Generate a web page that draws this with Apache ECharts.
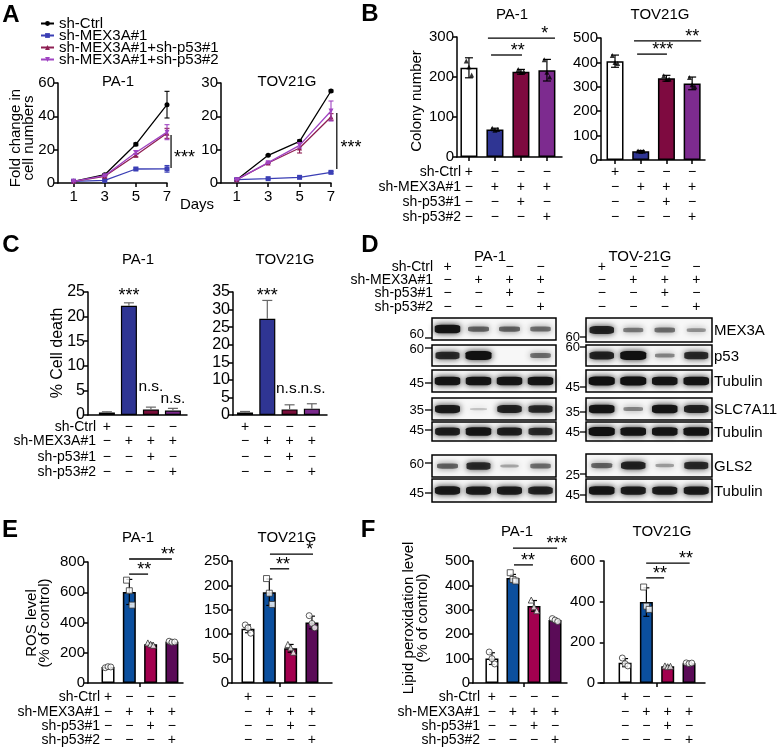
<!DOCTYPE html>
<html><head><meta charset="utf-8">
<script src="https://cdn.jsdelivr.net/npm/echarts@6/dist/echarts.min.js"></script>
<style>html,body{margin:0;padding:0;background:#fff}#c{width:777px;height:749px}</style>
</head><body><div id="c"></div>
<script>
const FONT = "'Liberation Sans', Arial, Helvetica, sans-serif";

// ---------- DATA ----------
// Panel A: growth curves
const days = [1, 3, 5, 7];
const groupsA = ['sh-Ctrl', 'sh-MEX3A#1', 'sh-MEX3A#1+sh-p53#1', 'sh-MEX3A#1+sh-p53#2'];
const growthPA = [[1, 5, 23.2, 47], [1, 1.6, 8.4, 8.5], [1, 4, 16.6, 29.8], [1, 4.4, 18.3, 30.5]];
const growthPAErr = [[0.2, 0.5, 0.8, 8], [0.1, 0.3, 0.6, 2], [0.1, 0.4, 0.9, 3], [0.1, 0.4, 1.1, 4.5]];
const growthTOV = [[1, 8.3, 12.5, 27.6], [1, 1.3, 1.7, 3.2], [1, 6, 10.5, 19.8], [1, 6.1, 11.3, 21.6]];
const growthTOVErr = [[0.05, 0.2, 0.4, 0.3], [0.05, 0.1, 0.1, 0.3], [0.05, 0.2, 1.5, 1], [0.05, 0.2, 0.8, 3]];

// Condition table
const lanes = [1, 2, 3, 4];
const rowNames = ['sh-Ctrl', 'sh-MEX3A#1', 'sh-p53#1', 'sh-p53#2'];
const condTable = [['+', '−', '−', '−'], ['−', '+', '+', '+'], ['−', '−', '+', '−'], ['−', '−', '−', '+']];

// Panel B: colony number
const colonyPA = [223, 69, 213, 217];
const colonyPAErr = [25, 3, 6, 27];
const colonyPAPts = [[240, 225, 205], [72, 67, 69], [219, 211, 214], [243, 212, 200]];
const colonyTOV = [405, 36, 335, 314];
const colonyTOVErr = [25, 3, 12, 26];
const colonyTOVPts = [[428, 400, 395], [37, 35, 36], [345, 330, 332], [338, 308, 300]];

// Panel C: % cell death
const deathPA = [0.5, 22.2, 1.1, 0.9];
const deathPAErr = [0.15, 0.6, 0.5, 0.45];
const deathTOV = [0.7, 27.4, 1.6, 1.8];
const deathTOVErr = [0.3, 5.2, 1.3, 1.4];

// Panel E: ROS level
const rosPA = [105, 602, 256, 272];
const rosPAErr = [6, 83, 8, 4];
const rosPAPts = [[101, 108, 106], [680, 610, 515], [265, 256, 249], [276, 270, 271]];
const rosTOV = [111, 186, 71, 124];
const rosTOVErr = [8, 27, 8, 13];
const rosTOVPts = [[119, 113, 102], [214, 184, 161], [79, 72, 63], [138, 122, 113]];

// Panel F: lipid peroxidation
const lipPA = [100, 430, 316, 258];
const lipPAErr = [24, 15, 22, 6];
const lipPAPts = [[127, 100, 78], [452, 424, 418], [340, 312, 296], [264, 258, 252]];
const lipTOV = [100, 398, 82, 97];
const lipTOVErr = [20, 70, 4, 4];
const lipTOVPts = [[123, 95, 84], [472, 378, 362], [84, 80, 82], [99, 95, 98]];

// Panel D: western blot band intensities (0..1), lanes 1..4
const blotProteins = ['MEX3A', 'p53', 'Tubulin', 'SLC7A11', 'Tubulin', 'GLS2', 'Tubulin'];
const bandsPA = [[0.95, 0.5, 0.5, 0.45], [0.8, 1.0, 0, 0.45], [0.95, 0.95, 0.95, 0.95], [0.9, 0.1, 0.85, 0.8], [0.88, 0.95, 0.88, 0.8], [0.5, 0.8, 0.22, 0.45], [0.92, 0.9, 0.9, 0.85]];
const bandsTOV = [[0.85, 0.4, 0.45, 0.3], [0.85, 1.0, 0.35, 0.8], [1, 1, 0.95, 0.95], [0.95, 0.35, 0.95, 0.85], [1, 0.95, 0.95, 0.95], [0.5, 0.85, 0.25, 0.8], [0.95, 0.9, 0.9, 0.9]];
const markersPA = ['60', '60', '45', '35', '45', '60', '45'];
const markersTOV = ['60', '60', '45', '35', '45', '25', '45'];

// Significance annotations: [x1, x2, yLine, label, xText]
const sigB_PA = [[1.85, 3.04, 255, '**', 2.88], [1.73, 4.31, 297, '*', 3.92]];
const sigB_TOV = [[1.86, 3.02, 434, '***', 2.86], [1.74, 4.35, 488, '**', 4.0]];
const sigE_PA = [[1.99, 2.88, 720, '**', 2.7], [1.99, 4.0, 820, '**', 3.82]];
const sigE_TOV = [[2.03, 2.93, 234, '**', 2.64], [2.03, 4.05, 264, '*', 3.9]];
const sigF_PA = [[2.05, 2.95, 484, '**', 2.71], [2.0, 4.1, 553, '***', 4.1]];
const sigF_TOV = [[1.99, 2.83, 517, '**', 2.64], [1.99, 4.03, 590, '**', 3.86]];
// A: [x, y1, y2, label, xText, yText]
const sigA_PA = [7.26, 28.8, 9, '***', 7.45, 17.4];
const sigA_TOV = [7.37, 21, 4.2, '***', 7.6, 11.7];
// C: [lane, y, label]
const sigC_PA = [[2, 24.2, '***'], [3, 5.8, 'n.s.'], [4, 3.35, 'n.s.']];
const sigC_TOV = [[2, 33.9, '***'], [2.95, 7.5, 'n.s.'], [4.05, 7.6, 'n.s.']];

// ---------- STYLE ----------
const colA = ['#000000', '#3b3fb5', '#8e1f53', '#a044c2'];
const symA = ['circle', 'rect', 'triangle', 'path://M0,0L10,0L5,9Z'];
const colB = ['#ffffff', '#2f3593', '#7e0a40', '#7d2b8f'];
const colC = ['#eeeeee', '#2f3593', '#7a0e3a', '#7b2a8c'];
const colEF = ['#ffffff', '#0b4f9e', '#a3004f', '#5a0b57'];
const symEF = ['circle', 'rect', 'triangle', 'circle'];
const jit = [-0.13, 0, 0.13];

const grid = [], xAxis = [], yAxis = [], series = [], graphic = [];
const axLS = { color: '#000', width: 1.5 };

function addGrid(g, xa, ya) {
  grid.push(Object.assign({ containLabel: false }, g));
  const i = grid.length - 1;
  xAxis.push(Object.assign({ gridIndex: i }, xa));
  yAxis.push(Object.assign({ gridIndex: i }, ya));
  return i;
}
function yAx(max, interval, fs) {
  return { type: 'value', min: 0, max, interval,
    axisLine: { show: true, lineStyle: axLS },
    axisTick: { show: true, length: 4, lineStyle: axLS },
    axisLabel: { color: '#000', fontSize: fs || 15, fontFamily: FONT, margin: 3 },
    splitLine: { show: false } };
}
function xAxLanes(min, max, ticks) {
  return { type: 'value', min, max,
    axisLine: { show: true, onZero: false, lineStyle: axLS },
    axisTick: ticks ? { show: true, length: 4, customValues: ticks, lineStyle: axLS } : { show: false },
    axisLabel: { show: false }, splitLine: { show: false } };
}
function errRender(color, oneSided, capW, lw) {
  return function (params, api) {
    const x = api.value(0), y = api.value(1), e = api.value(2);
    const p1 = api.coord([x, y + e]);
    const p0 = api.coord([x, oneSided ? y : y - e]);
    const ch = [
      { type: 'line', shape: { x1: p1[0], y1: p1[1], x2: p0[0], y2: p0[1] }, style: { stroke: color, lineWidth: lw } },
      { type: 'line', shape: { x1: p1[0] - capW, y1: p1[1], x2: p1[0] + capW, y2: p1[1] }, style: { stroke: color, lineWidth: lw } }];
    if (!oneSided) ch.push({ type: 'line', shape: { x1: p0[0] - capW, y1: p0[1], x2: p0[0] + capW, y2: p0[1] }, style: { stroke: color, lineWidth: lw } });
    return { type: 'group', children: ch };
  };
}
function barPanel(p) {
  const gi = addGrid({ left: p.left, top: p.top, width: p.width, height: p.height },
    xAxLanes(p.xmin, p.xmax, p.ticks), yAx(p.ymax, p.yint, p.fs));
  series.push({ type: 'bar', xAxisIndex: gi, yAxisIndex: gi, barWidth: p.barWidth, silent: true, z: 2,
    data: p.values.map((v, i) => ({ value: [lanes[i], v], itemStyle: { color: p.colors[i] } })),
    itemStyle: { borderColor: '#000', borderWidth: p.bw || 1.5 } });
  series.push({ type: 'custom', xAxisIndex: gi, yAxisIndex: gi, silent: true, z: 3,
    dimensions: ['x', 'y', 'e'], encode: { x: 0, y: 1 },
    renderItem: errRender(p.errColor || '#000', p.oneSided, p.capW || 4, 1.2),
    data: p.values.map((v, i) => [lanes[i], v, p.errors[i]]) });
  if (p.points) p.points.forEach((arr, i) => {
    series.push({ type: 'scatter', xAxisIndex: gi, yAxisIndex: gi, silent: true, z: 4,
      symbol: p.symbols[i], symbolSize: p.symSize,
      data: arr.map((v, k) => [lanes[i] + jit[k] * p.jitScale, v]),
      itemStyle: p.ptStyle });
  });
  return gi;
}

// ---------- PANEL A ----------
function growthPanel(left, width, ymax, yint, vals, errs) {
  const gi = addGrid({ left, top: 83, width, height: 100 },
    { type: 'value', min: 0, max: 7,
      axisLine: { show: true, onZero: false, lineStyle: axLS },
      axisTick: { show: true, length: 4, customValues: days, lineStyle: axLS },
      axisLabel: { show: true, customValues: days, color: '#000', fontSize: 15, fontFamily: FONT, margin: 6 },
      splitLine: { show: false } },
    yAx(ymax, yint, 15));
  groupsA.forEach((name, g) => {
    series.push({ type: 'line', name, xAxisIndex: gi, yAxisIndex: gi, silent: true,
      data: days.map((d, j) => [d, vals[g][j]]),
      symbol: symA[g], symbolSize: 5, showSymbol: true,
      itemStyle: { color: colA[g] }, lineStyle: { color: colA[g], width: 1.3 }, z: 3 + g });
    series.push({ type: 'custom', name, xAxisIndex: gi, yAxisIndex: gi, silent: true, z: 3 + g,
      dimensions: ['x', 'y', 'e'], encode: { x: 0, y: 1 },
      renderItem: errRender(colA[g], false, 2.5, 1.1),
      data: days.map((d, j) => [d, vals[g][j], errs[g][j]]) });
  });
  return gi;
}
const gA1 = growthPanel(58, 109, 60, 20, growthPA, growthPAErr);
const gA2 = growthPanel(221, 110, 30, 10, growthTOV, growthTOVErr);

// ---------- PANEL B ----------
const ptB = { color: '#000' };
const gB1 = barPanel({ left: 457, top: 37, width: 105, height: 120, xmin: 0.54, xmax: 4.58, ymax: 300, yint: 100,
  ticks: lanes, barWidth: 17, values: colonyPA, errors: colonyPAErr, colors: colB, points: colonyPAPts,
  symbols: ['triangle', 'triangle', 'triangle', 'triangle'], symSize: 5, ptStyle: ptB, jitScale: 0.8 });
const gB2 = barPanel({ left: 601, top: 38, width: 104, height: 122, xmin: 0.455, xmax: 4.5, ymax: 500, yint: 100,
  ticks: lanes, barWidth: 17, values: colonyTOV, errors: colonyTOVErr, colors: colB, points: colonyTOVPts,
  symbols: ['triangle', 'triangle', 'triangle', 'triangle'], symSize: 5, ptStyle: ptB, jitScale: 0.8 });

// ---------- PANEL C ----------
const gC1 = barPanel({ left: 88, top: 292, width: 99, height: 123, xmin: 0.14, xmax: 4.64, ymax: 25, yint: 5, fs: 16,
  barWidth: 16, bw: 1.2, values: deathPA, errors: deathPAErr, colors: colC, oneSided: true, errColor: '#666', capW: 5 });
const gC2 = barPanel({ left: 233, top: 292, width: 94, height: 123, xmin: 0.46, xmax: 4.68, ymax: 35, yint: 5, fs: 16,
  barWidth: 16, bw: 1.2, values: deathTOV, errors: deathTOVErr, colors: colC, oneSided: true, errColor: '#666', capW: 5 });

// ---------- PANEL E ----------
const ptEF = { color: '#fff', borderColor: '#333', borderWidth: 1 };
const gE1 = barPanel({ left: 88, top: 562, width: 95, height: 121, xmin: 0.06, xmax: 4.52, ymax: 800, yint: 200,
  ticks: [2.5], barWidth: 13, values: rosPA, errors: rosPAErr, colors: colEF, points: rosPAPts,
  symbols: symEF, symSize: 6, ptStyle: ptEF, jitScale: 1, capW: 3 });
const gE2 = barPanel({ left: 232, top: 561, width: 100, height: 122, xmin: 0.25, xmax: 4.94, ymax: 250, yint: 50,
  ticks: [2.5], barWidth: 13, values: rosTOV, errors: rosTOVErr, colors: colEF, points: rosTOVPts,
  symbols: symEF, symSize: 6, ptStyle: ptEF, jitScale: 1, capW: 3 });

// ---------- PANEL F ----------
const gF1 = barPanel({ left: 473, top: 561, width: 94, height: 122, xmin: 0.1, xmax: 4.57, ymax: 500, yint: 100,
  ticks: [2.5], barWidth: 13, values: lipPA, errors: lipPAErr, colors: colEF, points: lipPAPts,
  symbols: symEF, symSize: 6, ptStyle: ptEF, jitScale: 1, capW: 3 });
const gF2 = barPanel({ left: 598, top: 561, width: 107, height: 122, xmin: -0.27, xmax: 4.75, ymax: 600, yint: 200,
  ticks: [2.5], barWidth: 13, values: lipTOV, errors: lipTOVErr, colors: colEF, points: lipTOVPts,
  symbols: symEF, symSize: 6, ptStyle: ptEF, jitScale: 1, capW: 3 });

// ---------- PANEL D (blots) ----------
const blotBoxPA = [[318, 22], [345, 21], [370, 22], [398, 22], [422, 19], [455, 22], [479, 23]];
const blotBoxTOV = [[318, 24], [345, 21], [370, 22], [398, 22], [422, 19], [454, 23], [479, 23]];
function blotGrid(left, width, box, bands) {
  const gi = addGrid({ left, top: box[0], width, height: box[1], show: true, borderColor: '#000', borderWidth: 1.5, backgroundColor: '#f7f7f7' },
    { type: 'value', min: 0.5, max: 4.5, show: false },
    { type: 'value', min: 0, max: 1, show: false });
  series.push({ type: 'scatter', xAxisIndex: gi, yAxisIndex: gi, silent: true, symbol: 'roundRect',
    data: bands.map((v, i) => ({ value: [lanes[i], 0.5, v], itemStyle: { opacity: v <= 0 ? 0 : Math.min(1, 0.1 + 0.9 * v) } })),
    symbolSize: (val) => [16 + 10 * val[2], 1.5 + 7.5 * val[2]],
    itemStyle: { color: '#111', shadowBlur: 6, shadowColor: 'rgba(0,0,0,0.9)' } });
  return gi;
}
const blotPA = blotBoxPA.map((b, r) => blotGrid(432, 124, b, bandsPA[r]));
const blotTOV = blotBoxTOV.map((b, r) => blotGrid(586, 126, b, bandsTOV[r]));

// ---------- CHART ----------
const chart = echarts.init(document.getElementById('c'), null, { renderer: 'canvas', width: 777, height: 749 });
chart.setOption({
  animation: false,
  backgroundColor: '#ffffff',
  textStyle: { fontFamily: FONT },
  legend: { data: groupsA, left: 40, top: 16, orient: 'vertical', itemGap: -3, itemWidth: 13, itemHeight: 6, padding: 0,
    selectedMode: false, textStyle: { fontSize: 15, fontFamily: FONT, color: '#000' } },
  grid, xAxis, yAxis, series
});

// ---------- ANNOTATIONS ----------
function px(gi, x, y) { return chart.convertToPixel({ gridIndex: gi }, [x, y]); }
function txt(x, y, s, o) {
  const st = Object.assign({ text: s, fill: '#000', fontSize: 15, fontFamily: FONT, align: 'center', verticalAlign: 'middle' }, o || {});
  st.textAlign = st.align; st.textVerticalAlign = st.verticalAlign;
  graphic.push({ type: 'text', x, y, silent: true, rotation: (o && o.rot) || 0, style: st });
}
function ln(x1, y1, x2, y2, w) {
  graphic.push({ type: 'line', silent: true, shape: { x1, y1, x2, y2 }, style: { stroke: '#000', lineWidth: w || 1.5 } });
}
// panel letters
[['A', 11, 15], ['B', 370, 14], ['C', 11, 245], ['D', 370, 245], ['E', 10, 530], ['F', 368, 530]].forEach(l =>
  txt(l[1], l[2], l[0], { fontSize: 24, fontWeight: 'bold' }));
// titles
[['PA-1', 118, 82], ['TOV21G', 287, 82], ['PA-1', 512, 15], ['TOV21G', 660, 15], ['PA-1', 138, 260], ['TOV21G', 285, 260],
 ['PA-1', 490, 257], ['TOV-21G', 640, 257], ['PA-1', 138, 538], ['TOV21G', 287, 538], ['PA-1', 517, 532], ['TOV21G', 662, 532]
].forEach(t => txt(t[1], t[2], t[0], { fontSize: 15 }));
txt(197, 205, 'Days', { fontSize: 15 });
// y-axis titles
txt(22, 138, 'Fold change in\ncell numbers', { rot: Math.PI / 2, lineHeight: 13 });
txt(417, 101, 'Colony number', { rot: Math.PI / 2 });
txt(58, 353, '% Cell death', { rot: Math.PI / 2, fontSize: 16 });
txt(38, 623, 'ROS level\n(% of control)', { rot: Math.PI / 2, lineHeight: 13 });
txt(416, 618, 'Lipid peroxidation level\n(% of control)', { rot: Math.PI / 2, lineHeight: 14 });

// A significance
[[gA1, sigA_PA], [gA2, sigA_TOV]].forEach(([gi, s]) => {
  const a = px(gi, s[0], s[1]), b = px(gi, s[0], s[2]);
  ln(a[0], a[1], b[0], b[1], 1.2);
  const t = px(gi, s[4], s[5]);
  txt(t[0], t[1] + 4, s[3], { fontSize: 18, align: 'left' });
});
// bracket sigs
[[gB1, sigB_PA], [gB2, sigB_TOV], [gE1, sigE_PA], [gE2, sigE_TOV], [gF1, sigF_PA], [gF2, sigF_TOV]].forEach(([gi, arr]) => {
  arr.forEach(s => {
    const a = px(gi, s[0], s[2]), b = px(gi, s[1], s[2]);
    ln(a[0], a[1], b[0], b[1], 1.3);
    const t = px(gi, s[4], s[2]);
    txt(t[0], a[1] - 4, s[3], { fontSize: 18 });
  });
});
// C labels
[[gC1, sigC_PA], [gC2, sigC_TOV]].forEach(([gi, arr]) => {
  arr.forEach(s => {
    const t = px(gi, s[0], s[1]);
    txt(t[0], t[1], s[2], { fontSize: s[2] === '***' ? 18 : 15.5 });
  });
});

// condition tables
function table(gis, rowsY, labelX) {
  rowsY.forEach((y, r) => {
    txt(labelX, y, rowNames[r], { align: 'right', fontSize: 14 });
    gis.forEach(gi => lanes.forEach((l, c) => {
      const p = px(gi, l, 0);
      txt(p[0], y, condTable[r][c], { fontSize: 14 });
    }));
  });
}
table([gB1, gB2], [172, 187, 202, 217], 461);
table([gC1, gC2], [427, 441, 457, 472], 96);
table([blotPA[0], blotTOV[0]], [267, 280, 293, 307], 433);
table([gE1, gE2], [697, 712, 726, 740], 100);
table([gF1, gF2], [697, 712, 726, 740], 480);

// blot markers and protein names
const mkYPA = [[334, 338], [349, 348], [383, 383], [410, 410], [430, 430], [464, 463], [493, 493]];
const mkYTOV = [[337, 337], [347, 347], [387, 387], [412, 412], [432, 432], [475, 474], [495, 495]];
markersPA.forEach((m, r) => { txt(424, mkYPA[r][0], m, { align: 'right', fontSize: 13 }); ln(425, mkYPA[r][1], 432, mkYPA[r][1], 1.3); });
markersTOV.forEach((m, r) => { txt(580, mkYTOV[r][0], m, { align: 'right', fontSize: 13 }); ln(580, mkYTOV[r][1], 586, mkYTOV[r][1], 1.3); });
blotProteins.forEach((name, r) => {
  const b = blotBoxTOV[r];
  txt(714, b[0] + b[1] / 2 + 1, name, { align: 'left', fontSize: 15 });
});

chart.setOption({ graphic: { elements: graphic } });
</script></body></html>
